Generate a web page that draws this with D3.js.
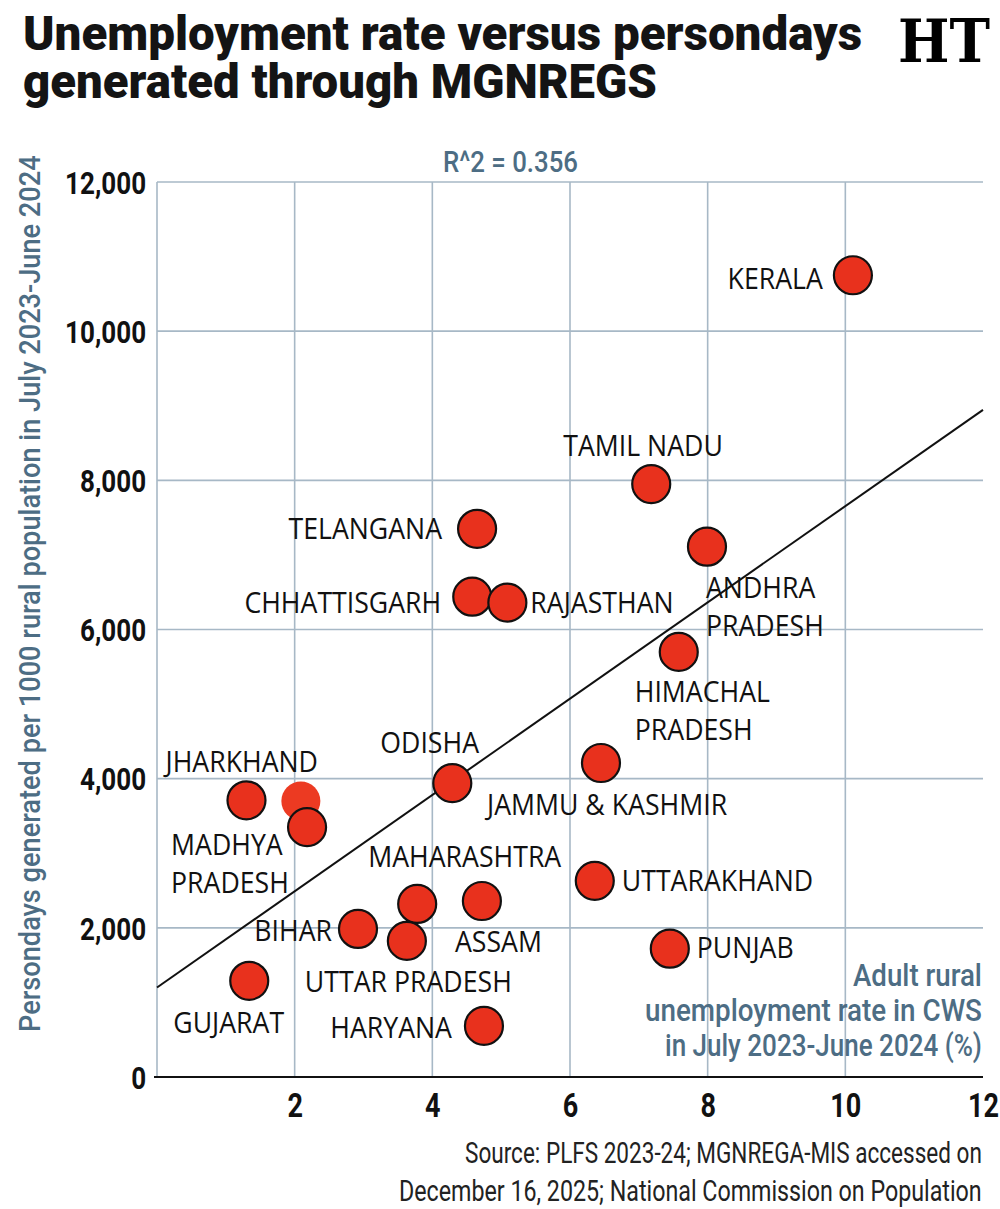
<!DOCTYPE html>
<html>
<head>
<meta charset="utf-8">
<script src="https://cdn.jsdelivr.net/npm/d3@7"></script>
<style>
  html, body { margin: 0; padding: 0; background: #fff; }
  svg { display: block; }
</style>
</head>
<body>
<svg id="chart" width="1000" height="1209"></svg>
<script>
// ---------------- DATA ----------------
const states = [
  "KERALA", "TAMIL NADU", "TELANGANA", "ANDHRA PRADESH", "CHHATTISGARH",
  "RAJASTHAN", "HIMACHAL PRADESH", "JAMMU & KASHMIR", "ODISHA", "JHARKHAND",
  "MADHYA PRADESH", "MAHARASHTRA", "ASSAM", "BIHAR", "UTTAR PRADESH",
  "UTTARAKHAND", "PUNJAB", "GUJARAT", "HARYANA"
];
// Adult rural unemployment rate in CWS, July 2023-June 2024 (%)
const unemploymentRate = [
  10.11, 7.18, 4.65, 7.99, 4.58,
  5.09, 7.58, 6.45, 4.29, 1.30,
  2.18, 3.78, 4.72, 2.92, 3.63,
  6.36, 7.45, 1.34, 4.75
];
// Persondays generated per 1000 rural population, July 2023-June 2024
const persondays = [
  10750, 7950, 7350, 7110, 6440,
  6360, 5700, 4210, 3940, 3710,
  3350, 2320, 2360, 1985, 1825,
  2630, 1720, 1290, 685
];
// unlabelled point without outline (behind Madhya Pradesh)
const extraRate = [2.09];
const extraPersondays = [3700];

// trend line end points [rate, persondays]
const trendRate = [0, 12];
const trendPersondays = [1200, 8945];
const rSquared = "R^2 = 0.356";

const xTicks = [2, 4, 6, 8, 10, 12];
const yTicks = [0, 2000, 4000, 6000, 8000, 10000, 12000];

const titleLines = ["Unemployment rate versus persondays", "generated through MGNREGS"];
const yTitle = "Persondays generated per 1000 rural population in July 2023-June 2024";
const xTitleLines = ["Adult rural", "unemployment rate in CWS", "in July 2023-June 2024 (%)"];
const sourceLines = ["Source: PLFS 2023-24; MGNREGA-MIS accessed on",
                     "December 16, 2025; National Commission on Population"];

// ---------------- LAYOUT (label placement, px offsets from dot centre) ----------------
const labelLayout = {
  "KERALA":           {anchor: "end",   dx: -30,  dy: 14,  lines: ["KERALA"]},
  "TAMIL NADU":       {anchor: "start", dx: -88,  dy: -28, lines: ["TAMIL NADU"]},
  "TELANGANA":        {anchor: "end",   dx: -35,  dy: 10,  lines: ["TELANGANA"]},
  "ANDHRA PRADESH":   {anchor: "start", dx: -1,   dy: 51,  lines: ["ANDHRA", "PRADESH"]},
  "CHHATTISGARH":     {anchor: "end",   dx: -31,  dy: 16,  lines: ["CHHATTISGARH"]},
  "RAJASTHAN":        {anchor: "start", dx: 23,   dy: 10,  lines: ["RAJASTHAN"]},
  "HIMACHAL PRADESH": {anchor: "start", dx: -44,  dy: 50,  lines: ["HIMACHAL", "PRADESH"]},
  "JAMMU & KASHMIR":  {anchor: "start", dx: -114, dy: 52,  lines: ["JAMMU & KASHMIR"]},
  "ODISHA":           {anchor: "start", dx: -72,  dy: -30, lines: ["ODISHA"]},
  "JHARKHAND":        {anchor: "start", dx: -81,  dy: -28, lines: ["JHARKHAND"]},
  "MADHYA PRADESH":   {anchor: "start", dx: -136, dy: 28,  lines: ["MADHYA", "PRADESH"]},
  "MAHARASHTRA":      {anchor: "start", dx: -49,  dy: -37, lines: ["MAHARASHTRA"]},
  "ASSAM":            {anchor: "start", dx: -27,  dy: 51,  lines: ["ASSAM"]},
  "BIHAR":            {anchor: "end",   dx: -26,  dy: 12,  lines: ["BIHAR"]},
  "UTTAR PRADESH":    {anchor: "start", dx: -102, dy: 51,  lines: ["UTTAR PRADESH"]},
  "UTTARAKHAND":      {anchor: "start", dx: 27,   dy: 10,  lines: ["UTTARAKHAND"]},
  "PUNJAB":           {anchor: "start", dx: 27,   dy: 9,   lines: ["PUNJAB"]},
  "GUJARAT":          {anchor: "start", dx: -76,  dy: 52,  lines: ["GUJARAT"]},
  "HARYANA":          {anchor: "end",   dx: -32,  dy: 12,  lines: ["HARYANA"]}
};
// draw order tweaks: later = on top
const drawOrder = ["KERALA","TAMIL NADU","TELANGANA","ANDHRA PRADESH","CHHATTISGARH","RAJASTHAN",
  "HIMACHAL PRADESH","JAMMU & KASHMIR","ODISHA","JHARKHAND","MADHYA PRADESH","MAHARASHTRA",
  "UTTAR PRADESH","ASSAM","BIHAR","UTTARAKHAND","PUNJAB","GUJARAT","HARYANA"];

// ---------------- CHART ----------------
const svg = d3.select("#chart");
const BLUE = "#4d6d84";
const GRID = "#a7b8c6";
const DOT = "#e8311d";
const COND = "Roboto, 'Liberation Sans', sans-serif";
const LABEL = "'Open Sans', 'Noto Sans', sans-serif";

const x = d3.scaleLinear().domain([0, 12]).range([157, 983]);
const y = d3.scaleLinear().domain([0, 12000]).range([1077, 182]);

// place a text at (tx,ty) and squeeze it horizontally to a target width
function fitText(sel, tx, ty, width, rot) {
  sel.each(function (d, i) {
    const w = this.getComputedTextLength();
    const k = width(d, i) / w;
    const r = rot ? ` rotate(${rot})` : "";
    d3.select(this).attr("transform",
      `translate(${tx(d, i)},${ty(d, i)})${r} scale(${k},1)`);
  });
}

// Title (one text element, two lines)
const titleLens = [839, 634];
const title = svg.append("text")
  .attr("font-family", COND).attr("font-weight", 900).attr("font-size", 48)
  .attr("fill", "#141414");
title.selectAll("tspan").data(titleLines).join("tspan")
  .attr("x", 23).attr("y", (d, i) => 50 + i * 48)
  .attr("textLength", (d, i) => titleLens[i])
  .attr("lengthAdjust", "spacingAndGlyphs")
  .text(d => d);

// Logo
svg.append("text")
  .attr("font-family", "'DejaVu Serif', 'Liberation Serif', serif")
  .attr("font-weight", 700).attr("font-size", 60)
  .attr("fill", "#000").text("HT")
  .call(fitText, () => 898, () => 62, () => 92);

// Grid
const grid = svg.append("g");
grid.selectAll("line.v").data(xTicks.filter(t => t < 12)).join("line")
  .attr("x1", d => x(d)).attr("x2", d => x(d))
  .attr("y1", y(12000)).attr("y2", y(0))
  .attr("stroke", GRID).attr("stroke-width", 1.6);
grid.selectAll("line.h").data(yTicks.filter(t => t > 0)).join("line")
  .attr("x1", x(0)).attr("x2", x(12))
  .attr("y1", d => y(d)).attr("y2", d => y(d))
  .attr("stroke", GRID).attr("stroke-width", 1.6);
// y axis line
grid.append("line")
  .attr("x1", x(0)).attr("x2", x(0)).attr("y1", y(12000)).attr("y2", y(0))
  .attr("stroke", GRID).attr("stroke-width", 1.6);

// Y axis labels
const yAxis = svg.append("g")
  .attr("transform", `translate(${x(0)},0)`)
  .call(d3.axisLeft(y).tickValues(yTicks).tickFormat(d3.format(",")).tickSize(0).tickPadding(13));
yAxis.select(".domain").remove();
yAxis.selectAll("text")
  .attr("font-family", COND).attr("font-weight", 700).attr("font-size", 31)
  .attr("fill", "#111")
  .attr("dy", "0.36em")
  .attr("transform", "scale(0.84,1)");

// X axis
const xAxis = svg.append("g")
  .attr("transform", `translate(0,${y(0)})`)
  .call(d3.axisBottom(x).tickValues(xTicks).tickSize(0).tickPadding(17));
xAxis.select(".domain").remove();
xAxis.selectAll("text")
  .attr("font-family", COND).attr("font-weight", 700).attr("font-size", 33)
  .attr("fill", "#111")
  .attr("transform", "scale(0.82,1)");
svg.append("line")
  .attr("x1", x(0) - 3).attr("x2", x(12)).attr("y1", y(0)).attr("y2", y(0))
  .attr("stroke", "#111").attr("stroke-width", 2.2);

// R^2
svg.append("text")
  .attr("font-family", COND).attr("font-size", 30).attr("font-weight", 500)
  .attr("fill", BLUE)
  .text(rSquared)
  .call(fitText, () => 443, () => 172, () => 135);

// Y title
svg.append("text")
  .attr("font-family", COND).attr("font-size", 30).attr("font-weight", 500)
  .attr("fill", BLUE)
  .text(yTitle)
  .call(fitText, () => 40, () => 1032, () => 877, -90);

// X title (bottom right, inside plot)
const xTitleLens = [129, 337, 317];
svg.append("g").selectAll("text").data(xTitleLines).join("text")
  .attr("font-family", COND).attr("font-size", 32).attr("font-weight", 500)
  .attr("fill", BLUE)
  .text(d => d)
  .call(fitText, (d, i) => 982 - xTitleLens[i], (d, i) => 986 + i * 35, (d, i) => xTitleLens[i]);

// Trend line
svg.append("line")
  .attr("x1", x(trendRate[0])).attr("y1", y(trendPersondays[0]))
  .attr("x2", x(trendRate[1])).attr("y2", y(trendPersondays[1]))
  .attr("stroke", "#111").attr("stroke-width", 2);

// Points
const pts = states.map((s, i) => ({state: s, rate: unemploymentRate[i], pd: persondays[i]}));
pts.sort((a, b) => drawOrder.indexOf(a.state) - drawOrder.indexOf(b.state));

svg.append("g").selectAll("circle").data(extraRate.map((r, i) => ({rate: r, pd: extraPersondays[i]})))
  .join("circle")
  .attr("cx", d => x(d.rate)).attr("cy", d => y(d.pd)).attr("r", 19.5)
  .attr("fill", "#ec3a22");

svg.append("g").selectAll("circle").data(pts).join("circle")
  .attr("cx", d => x(d.rate)).attr("cy", d => y(d.pd)).attr("r", 19)
  .attr("fill", DOT).attr("stroke", "#111").attr("stroke-width", 2.2);

// Labels
const lab = svg.append("g").selectAll("g").data(pts).join("g")
  .attr("transform", d => {
    const L = labelLayout[d.state];
    return `translate(${x(d.rate) + L.dx},${y(d.pd) + L.dy}) scale(0.92,1)`;
  });
lab.append("text")
  .attr("text-anchor", d => labelLayout[d.state].anchor)
  .attr("font-family", LABEL).attr("font-size", 29).attr("font-weight", 500)
  .attr("fill", "#111")
  .each(function (d) {
    const L = labelLayout[d.state];
    d3.select(this).selectAll("tspan").data(L.lines).join("tspan")
      .attr("x", 0).attr("y", (t, i) => i * 38).text(t => t);
  });

// Source
const srcLens = [517, 583];
svg.append("g").selectAll("text").data(sourceLines).join("text")
  .attr("font-family", COND).attr("font-size", 29).attr("font-weight", 400)
  .attr("fill", "#222")
  .text(d => d)
  .call(fitText, (d, i) => 982 - srcLens[i], (d, i) => 1163 + i * 38, (d, i) => srcLens[i]);
</script>
</body>
</html>
